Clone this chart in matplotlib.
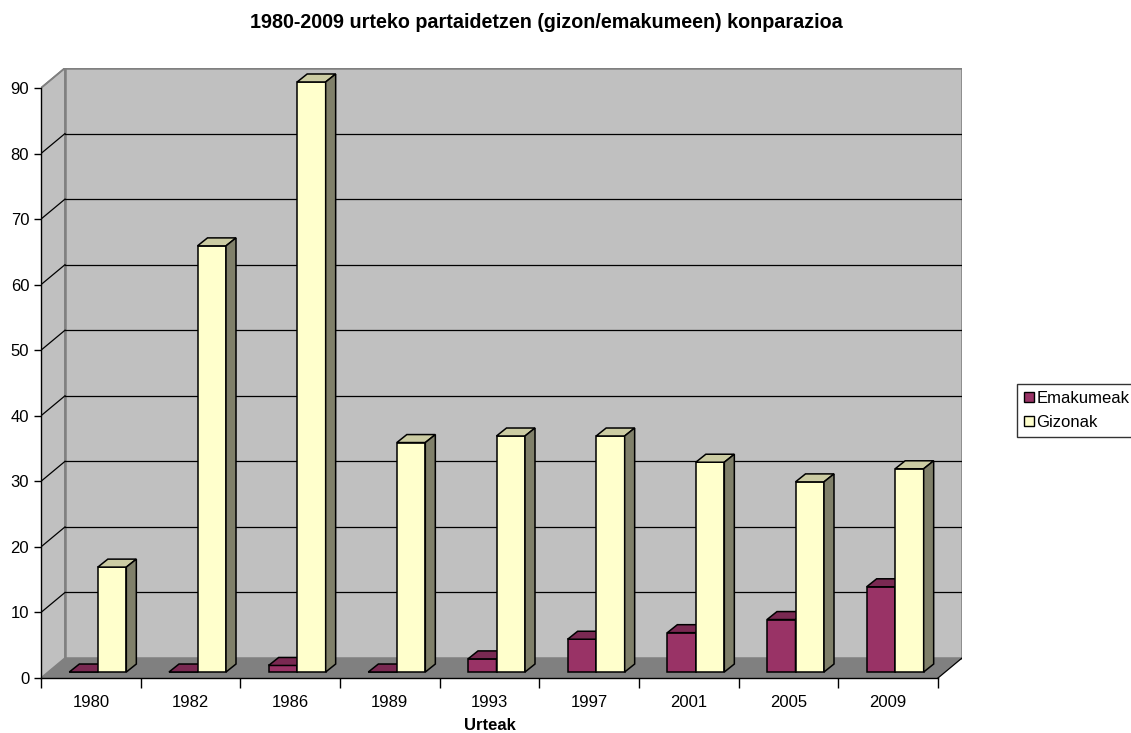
import matplotlib
matplotlib.use("Agg")
import matplotlib.pyplot as plt
from matplotlib.patches import Polygon, Rectangle, Patch
import numpy as np

plt.rcParams['font.family'] = ['Liberation Sans', 'DejaVu Sans']

# ---- data ----
years = ['1980', '1982', '1986', '1989', '1993', '1997', '2001', '2005', '2009']
emakumeak = [0, 0, 1, 0, 2, 5, 6, 8, 13]
gizonak = [16, 65, 90, 35, 36, 36, 32, 29, 31]
series_names = ['Emakumeak', 'Gizonak']
title = '1980-2009 urteko partaidetzen (gizon/emakumeen) konparazioa'
xlabel = 'Urteak'
yticks = list(range(0, 91, 10))

# ---- style ----
W, H = 1131, 733
fig = plt.figure(figsize=(W / 100, H / 100), dpi=100)
left_px, right_px, top_px, bot_px = 41, 962, 68, 678
ax = fig.add_axes([left_px / W, (H - bot_px) / H, (right_px - left_px) / W, (bot_px - top_px) / H])

n = len(years)
ymax = 90
px_per_cat = (938 - 41) / n
px_per_val = (678 - 87) / ymax
DX = 24 / px_per_cat          # wall depth (data units)
DY = 20 / px_per_val
bsx = 7 / px_per_cat          # bar placement inside depth
bsy = 6 / px_per_val
bdx = 10 / px_per_cat         # bar depth
bdy = 8 / px_per_val
bw = 28.5 / px_per_cat        # bar width

ax.set_xlim(0, n + DX)
ax.set_ylim(0, ymax + DY)

wall_c = '#C0C0C0'
floor_c = '#808080'
border_c = '#808080'
fs = 12

# walls
ax.add_patch(Polygon([(0, 0), (DX, DY), (DX, ymax + DY), (0, ymax)], closed=True,
                     facecolor=wall_c, edgecolor=border_c, lw=1.2, zorder=1))
ax.add_patch(Rectangle((DX, DY), n, ymax, facecolor=wall_c, edgecolor=border_c, lw=1.8, zorder=1))
for v in yticks[1:-1]:
    ax.plot([DX, n + DX], [v + DY, v + DY], color='black', lw=0.9, zorder=2)
    ax.plot([0, DX], [v, v + DY], color='black', lw=0.9, zorder=2)
ax.plot([0, DX], [ymax, ymax + DY], color=border_c, lw=1.2, zorder=2)
# floor
ax.add_patch(Polygon([(0, 0), (n, 0), (n + DX, DY), (DX, DY)], closed=True,
                     facecolor=floor_c, edgecolor='none', zorder=3))
ax.plot([n, n + DX], [0, DY], color='black', lw=0.9, zorder=3)

# bars
colors = {
    'Emakumeak': ('#993366', '#7A2952', '#5C1F3D'),
    'Gizonak': ('#FFFFCC', '#CCCCA3', '#80806A'),
}
x = np.arange(n)
z = 4
for i in range(n):
    for k, (name, vals) in enumerate([(series_names[0], emakumeak), (series_names[1], gizonak)]):
        front, topc, side = colors[name]
        x0 = i + 0.5 - bw + k * bw + bsx
        v = vals[i]
        y0 = bsy
        y1 = bsy + v
        ax.bar(x0, v, width=bw, bottom=y0, align='edge', color=front,
               edgecolor='black', lw=1.1, zorder=z)
        ax.add_patch(Polygon([(x0, y1), (x0 + bw, y1), (x0 + bw + bdx, y1 + bdy), (x0 + bdx, y1 + bdy)],
                             closed=True, facecolor=topc, edgecolor='black', lw=1.1, zorder=z))
        ax.add_patch(Polygon([(x0 + bw, y0), (x0 + bw, y1), (x0 + bw + bdx, y1 + bdy), (x0 + bw + bdx, y0 + bdy)],
                             closed=True, facecolor=side, edgecolor='black', lw=1.1, zorder=z))
        z += 1

# axes
for s in ['top', 'right']:
    ax.spines[s].set_visible(False)
ax.spines['left'].set_bounds(0, ymax)
ax.spines['bottom'].set_bounds(0, n)
for s in ['left', 'bottom']:
    ax.spines[s].set_zorder(50)
    ax.spines[s].set_linewidth(1.0)

ax.set_yticks(yticks)
ax.set_yticklabels([str(t) for t in yticks], fontsize=fs)
ax.tick_params(axis='y', length=5, width=1, pad=3.5, direction='out')
ax.set_xticks(x + 0.5)
ax.set_xticklabels(years, fontsize=fs)
ax.tick_params(axis='x', which='major', length=0, pad=12.5)
ax.set_xticks(np.arange(n + 1), minor=True)
ax.tick_params(axis='x', which='minor', length=7.2, width=1, direction='out')

fig.text(489.5 / W, 1 - 726 / H, xlabel, ha='center', va='center', fontsize=fs, fontweight='bold')
fig.text(546 / W, 1 - 22 / H, title, ha='center', va='center', fontsize=14.2, fontweight='bold')

handles = [Patch(facecolor=colors[s][0], edgecolor='black', lw=1) for s in series_names]
leg = fig.legend(handles, series_names, loc='upper left', bbox_to_anchor=(1017 / W, 1 - 384 / H),
                 fontsize=fs, frameon=True, fancybox=False, handlelength=0.6, handleheight=0.6,
                 handletextpad=0.15, borderpad=0.4, labelspacing=0.55, borderaxespad=0)
leg.get_frame().set_edgecolor('black')
leg.get_frame().set_linewidth(1.0)

fig.savefig('out.png', dpi=100)
